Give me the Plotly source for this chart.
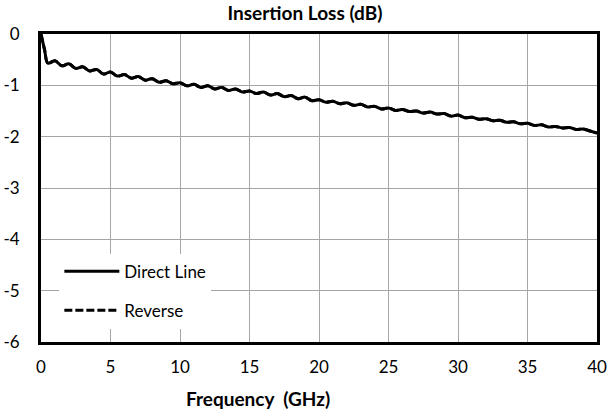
import plotly.graph_objects as go

freq_ghz = [0, 0.25, 0.5, 1.0, 1.5, 2.0, 2.5, 3.0, 3.5, 4.0, 4.5, 5.0, 5.5, 6.0, 6.5, 7.0, 7.5, 8.0, 8.5, 9.0,
            9.5, 10.0, 10.5, 11.0, 11.5, 12.0, 12.5, 13.0, 13.5, 14.0, 14.5, 15.0, 15.5, 16.0, 16.5, 17.0,
            17.5, 18.0, 18.5, 19.0, 19.5, 20.0, 20.5, 21.0, 21.5, 22.0, 22.5, 23.0, 23.5, 24.0, 24.5, 25.0,
            25.5, 26.0, 26.5, 27.0, 27.5, 28.0, 28.5, 29.0, 29.5, 30.0, 30.5, 31.0, 31.5, 32.0, 32.5, 33.0,
            33.5, 34.0, 34.5, 35.0, 35.5, 36.0, 36.5, 37.0, 37.5, 38.0, 38.5, 39.0, 39.5, 40.0]

direct_loss = [0.0, -0.30, -0.57, -0.52, -0.62, -0.58, -0.67, -0.64, -0.72, -0.69, -0.78, -0.74, -0.82, -0.79,
               -0.86, -0.83, -0.90, -0.87, -0.94, -0.91, -0.97, -0.95, -1.01, -0.98, -1.04, -1.01, -1.07, -1.04,
               -1.10, -1.07, -1.13, -1.11, -1.16, -1.13, -1.19, -1.16, -1.22, -1.20, -1.26, -1.23, -1.30, -1.28,
               -1.33, -1.31, -1.36, -1.34, -1.39, -1.37, -1.42, -1.41, -1.46, -1.44, -1.49, -1.47, -1.51, -1.50,
               -1.54, -1.52, -1.56, -1.55, -1.60, -1.58, -1.63, -1.62, -1.66, -1.65, -1.69, -1.68, -1.72, -1.71,
               -1.75, -1.74, -1.78, -1.77, -1.81, -1.80, -1.83, -1.82, -1.86, -1.85, -1.89, -1.93]

reverse_loss = list(direct_loss)

x_ticks = [0, 5, 10, 15, 20, 25, 30, 35, 40]
y_ticks = [0, -1, -2, -3, -4, -5, -6]

FONT = "Lato"

fig = go.Figure()
fig.add_trace(go.Scatter(x=freq_ghz, y=direct_loss, mode="lines", name="Direct Line",
                         legendgroup="a", line=dict(color="black", width=3, shape="spline", smoothing=1.0)))
fig.add_trace(go.Scatter(x=freq_ghz, y=reverse_loss, mode="lines", name="Reverse",
                         legendgroup="b", line=dict(color="black", width=3, dash="8px,3px",
                                                    shape="spline", smoothing=1.0)))

fig.update_layout(
    width=610, height=418,
    margin=dict(l=41, r=13, t=34, b=76, autoexpand=False),
    paper_bgcolor="white", plot_bgcolor="white",
    font=dict(family=FONT, size=17, color="black"),
    title=dict(text="<b>Insertion Loss (dB)</b>", x=0.5, xanchor="center", y=0.968, yanchor="middle",
               font=dict(family=FONT, size=19, color="black")),
    showlegend=True,
    legend=dict(x=0.033, y=0.287, xanchor="left", yanchor="top", bgcolor="white",
                font=dict(family=FONT, size=17), tracegroupgap=14, itemwidth=55,
                traceorder="grouped"),
    annotations=[dict(text="<b>Frequency  (GHz)</b>", xref="paper", yref="paper", x=0.39, y=-0.182,
                      xanchor="center", yanchor="middle", showarrow=False,
                      font=dict(family=FONT, size=19, color="black"))],
)
fig.update_xaxes(range=[0, 40], tickvals=x_ticks, ticktext=[str(v) for v in x_ticks],
                 showgrid=True, gridcolor="#a6a6a6", gridwidth=1, zeroline=False,
                 showline=True, linecolor="black", linewidth=3, mirror=True, automargin=False,
                 ticks="outside", ticklen=8, tickcolor="rgba(0,0,0,0)",
                 tickfont=dict(family=FONT, size=17))
fig.update_yaxes(range=[-6, 0], tickvals=y_ticks, ticktext=[str(v) for v in y_ticks],
                 showgrid=True, gridcolor="#a6a6a6", gridwidth=1, zeroline=False,
                 showline=True, linecolor="black", linewidth=3, mirror=True, automargin=False,
                 ticks="outside", ticklen=15, tickcolor="rgba(0,0,0,0)",
                 tickfont=dict(family=FONT, size=17))

fig.write_html("out.html", config={"displayModeBar": False},
               post_script="document.body.style.margin='0px';")
